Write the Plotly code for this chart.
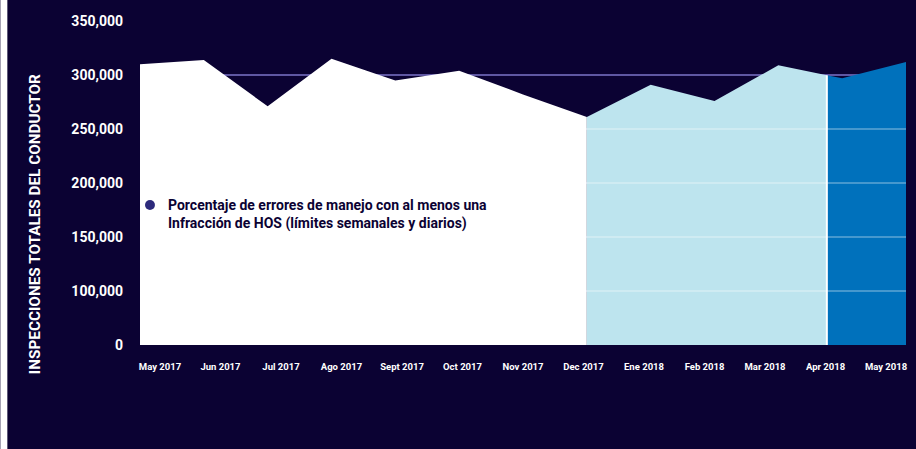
import numpy as np
import plotly.graph_objects as go

# ---- data ----
months = ["May 2017", "Jun 2017", "Jul 2017", "Ago 2017", "Sept 2017", "Oct 2017",
          "Nov 2017", "Dec 2017", "Ene 2018", "Feb 2018", "Mar 2018", "Apr 2018", "May 2018"]
inspecciones = [310000, 314000, 271000, 315000, 295000, 304000, 282000,
                261000, 291000, 276000, 309000, 297000, 312000]
y_tick_vals = [50000, 100000, 150000, 200000, 250000, 300000, 350000]
y_tick_text = ["0", "100,000", "150,000", "200,000", "250,000", "300,000", "350,000"]
legend_text = "Porcentaje de errores de manejo con al menos una<br>Infracción de HOS (límites semanales y diarios)"
y_title = "INSPECCIONES TOTALES DEL CONDUCTOR"

# ---- styling ----
NAVY = "#0b0233"
WHITE = "#ffffff"
LIGHT = "#bde4ee"
DARK = "#0071bc"
GRID = "#5f57a3"
FONT = "Roboto"

W, H = 916, 449
ML, MR, MT, MB = 140, 8, 21, 104
PW, PH = W - ML - MR, H - MT - MB

def px_x(p):
    return (p - ML) / PW

def px_y(p):
    return (H - MB - p) / PH

x = np.arange(len(months))
vals = np.array(inspecciones, dtype=float)
dec_i = months.index("Dec 2017")
split = 10.76  # divider position between Mar and Apr 2018
split_val = float(np.interp(split, x, vals))

white_x = list(x[:dec_i + 1])
white_y = list(vals[:dec_i + 1])
light_x = list(x[dec_i:11]) + [split]
light_y = list(vals[dec_i:11]) + [split_val]
dark_x = [split] + list(x[11:])
dark_y = [split_val] + list(vals[11:])

fig = go.Figure()
for xs, ys, col in [(white_x, white_y, WHITE), (light_x, light_y, LIGHT), (dark_x, dark_y, DARK)]:
    fig.add_trace(go.Scatter(x=xs, y=ys, mode="lines", fill="tozeroy", fillcolor=col,
                             line=dict(width=0, color=col), hoverinfo="skip", showlegend=False))

# invisible trace to carry the month tick labels
fig.add_trace(go.Scatter(x=list(x), y=list(vals), xaxis="x2", mode="none",
                         hoverinfo="skip", showlegend=False))

shapes = []
# light gridlines over the blue sections
for v in y_tick_vals[1:5]:
    shapes.append(dict(type="line", xref="x", yref="y", x0=dec_i, x1=len(months) - 1,
                       y0=v, y1=v, line=dict(color="rgba(255,255,255,0.55)", width=1.2),
                       layer="above"))
# white divider between light and dark blue
shapes.append(dict(type="line", xref="x", yref="y", x0=split, x1=split,
                   y0=y_tick_vals[0], y1=split_val, line=dict(color=WHITE, width=2),
                   layer="above"))
# legend dot
shapes.append(dict(type="circle", xref="paper", yref="paper",
                   x0=px_x(145), x1=px_x(155), y0=px_y(210), y1=px_y(200),
                   fillcolor="#2d2a7c", line=dict(width=0), layer="above"))
# white strip at the left edge of the image
shapes.append(dict(type="rect", xref="paper", yref="paper",
                   x0=px_x(0), x1=px_x(7), y0=px_y(H), y1=px_y(0),
                   fillcolor=WHITE, line=dict(width=0), layer="above"))

annotations = [
    dict(text=legend_text, xref="paper", yref="paper", x=px_x(166), y=px_y(214),
         xanchor="left", yanchor="middle", align="left", showarrow=False,
         font=dict(family=FONT, size=14, color=NAVY, weight="bold")),
    dict(text=y_title, xref="paper", yref="paper", x=px_x(35), y=px_y(224),
         xanchor="center", yanchor="middle", textangle=-90, showarrow=False,
         font=dict(family=FONT, size=15.3, color=WHITE, weight="bold")),
]

fig.update_layout(
    width=W, height=H,
    margin=dict(l=ML, r=MR, t=MT, b=MB),
    paper_bgcolor=NAVY, plot_bgcolor=NAVY,
    showlegend=False,
    xaxis=dict(range=[0, len(months) - 1], showgrid=False, zeroline=False,
               showticklabels=False, showline=False, fixedrange=True),
    xaxis2=dict(overlaying="x", anchor="y", side="bottom",
                range=[-0.33, len(months) - 1 + 0.33],
                tickmode="array", tickvals=list(x), ticktext=months,
                showgrid=False, zeroline=False, showline=False, ticks="",
                ticklabelstandoff=14,
                tickfont=dict(family=FONT, size=9.5, color=WHITE, weight="bold")),
    yaxis=dict(range=[y_tick_vals[0], y_tick_vals[-1]], tickmode="array",
               tickvals=y_tick_vals, ticktext=y_tick_text,
               showgrid=True, gridcolor=GRID, gridwidth=1.5, zeroline=False,
               ticks="", ticklabelstandoff=16,
               tickfont=dict(family=FONT, size=14, color=WHITE, weight="bold")),
    shapes=shapes,
    annotations=annotations,
)

fig.write_html("out.html", config={"displayModeBar": False},
               post_script="document.body.style.margin='0';")
